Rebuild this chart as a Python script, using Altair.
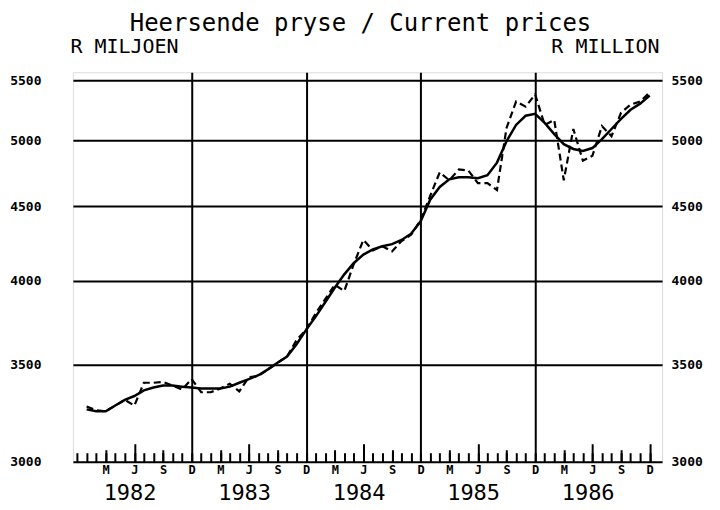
import altair as alt
import pandas as pd

# ---- data (month index: 1 = Jan 1982 ... 60 = Dec 1986) ----
months = list(range(1, 61))
actual = [3275, 3255, 3250, 3280, 3310, 3280, 3401, 3401, 3406, 3386, 3365, 3421,
          3350, 3350, 3370, 3396, 3355, 3432, 3437, 3474, 3511, 3546, 3640, 3699,
          3797, 3884, 3974, 3935, 4108, 4267, 4197, 4225, 4190, 4260, 4303, 4404,
          4577, 4751, 4692, 4773, 4765, 4670, 4670, 4620, 5098, 5317, 5274, 5377,
          5123, 5164, 4692, 5090, 4840, 4878, 5114, 5032, 5223, 5291, 5317, 5394]
trend = [3260, 3250, 3250, 3280, 3310, 3330, 3360, 3375, 3386, 3386, 3380, 3375,
         3370, 3370, 3370, 3380, 3401, 3421, 3442, 3474, 3511, 3546, 3616, 3699,
         3778, 3865, 3955, 4040, 4114, 4169, 4204, 4225, 4239, 4267, 4310, 4395,
         4549, 4642, 4699, 4714, 4714, 4707, 4729, 4825, 4992, 5123, 5198, 5214,
         5139, 5049, 4969, 4931, 4915, 4938, 5008, 5090, 5172, 5248, 5299, 5368]

y_values = [3000, 3500, 4000, 4500, 5000, 5500]
month_letters = ["M", "J", "S", "D"]
years = ["1982", "1983", "1984", "1985", "1986"]
year_label_pos = [5.5, 17.5, 29.5, 41.5, 53.5]
dec_grid = [12, 24, 36, 48]
quarter_pos = list(range(3, 61, 3))
month_ticks = list(range(0, 61))
mid_ticks = [m for m in range(3, 61, 3) if m % 6 != 0]
tall_ticks = [m for m in range(6, 61, 6) if m % 12 != 0] + [60]

df = pd.DataFrame({"m": months, "actual": actual, "trend": trend})

FONT = "DejaVu Sans Mono"
xscale = alt.Scale(domain=[-0.44, 61.3], nice=False, zero=False)
yscale = alt.Scale(type="log", domain=[3000, 5570], nice=False)

letters_js = "[" + ",".join("'%s'" % s for s in month_letters) + "]"
years_js = "[" + ",".join("'%s'" % s for s in years) + "]"

base = alt.Chart(df)

def tick_axis(vals, size):
    return alt.Axis(orient="bottom", values=vals, tickSize=size, offset=-size, labels=False,
                    domain=False, grid=False, ticks=True, tickColor="black",
                    tickWidth=2, title=None)

actual_line = base.mark_line(color="black", strokeWidth=2.2, strokeDash=[7, 4]).encode(
    x=alt.X("m:Q", scale=xscale,
            axis=alt.Axis(orient="bottom", values=dec_grid, grid=True, gridColor="black",
                          gridWidth=2, gridOpacity=1, ticks=False, labels=False,
                          domain=False, title=None)),
    y=alt.Y("actual:Q", scale=yscale,
            axis=alt.Axis(orient="left", values=y_values, format="d", grid=True,
                          gridColor="black", gridWidth=2, gridOpacity=1, ticks=False,
                          tickSize=0, domain=False,
                          labelFont=FONT, labelFontWeight="bold", labelFontSize=13,
                          labelColor="black", labelPadding=32, labelBaseline="middle",
                          labelFlush=False, labelOverlap=False,
                          title="R MILJOEN", titleAngle=0, titleAlign="left",
                          titleBaseline="alphabetic", titleX=-3, titleY=-20,
                          titleFont=FONT, titleFontSize=20, titleFontWeight="normal",
                          titleColor="black")),
)

trend_line = base.mark_line(color="black", strokeWidth=2.5).encode(
    x=alt.X("m:Q", scale=xscale,
            axis=alt.Axis(orient="bottom", values=quarter_pos, ticks=False, tickSize=0,
                          domain=False, grid=False,
                          labelExpr=letters_js + "[(round(datum.value/3)-1)%4]",
                          labelFont=FONT, labelFontWeight="bold", labelFontSize=12,
                          labelColor="black", labelPadding=3, labelFlush=False,
                          labelOverlap=False, title=None)),
    y=alt.Y("trend:Q", scale=yscale,
            axis=alt.Axis(orient="right", values=y_values, format="d", grid=False,
                          ticks=False, tickSize=0,
                          domain=False, labelFont=FONT, labelFontWeight="bold",
                          labelFontSize=13, labelColor="black", labelPadding=9,
                          labelBaseline="middle", labelFlush=False, labelOverlap=False,
                          title="R MILLION", titleAngle=0, titleAlign="right",
                          titleBaseline="alphabetic", titleX=-3, titleY=-20,
                          titleFont=FONT, titleFontSize=20, titleFontWeight="normal",
                          titleColor="black")),
)

def ghost(axis):
    return base.mark_line(opacity=0).encode(
        x=alt.X("m:Q", scale=xscale, axis=axis),
        y=alt.Y("trend:Q", scale=yscale, axis=None),
    )

year_layer = ghost(alt.Axis(orient="bottom", values=year_label_pos, ticks=False, tickSize=0,
                            domain=False, grid=False,
                            labelExpr=years_js + "[floor(datum.value/12)]",
                            labelFont=FONT, labelFontSize=22, labelColor="black",
                            labelPadding=21, labelFlush=False, labelOverlap=False,
                            title=None))
small_ticks = ghost(tick_axis(month_ticks, 9))
medium_ticks = ghost(tick_axis(mid_ticks, 12))
big_ticks = ghost(tick_axis(tall_ticks, 18))

chart = alt.layer(
    actual_line, trend_line, year_layer, small_ticks, medium_ticks, big_ticks
).resolve_axis(x="independent", y="independent").properties(
    width=590, height=390,
    autosize=alt.AutoSizeParams(type="none"),
    padding={"left": 65, "top": 64, "right": 50, "bottom": 46},
    title=alt.TitleParams("Heersende pryse / Current prices", font=FONT, fontSize=24,
                          fontWeight="normal", color="black", anchor="middle",
                          offset=0, dx=-7),
).configure_view(stroke="black", strokeWidth=2).configure(background="white")

chart.save("out.html", embed_options={"renderer": "svg", "actions": False})
